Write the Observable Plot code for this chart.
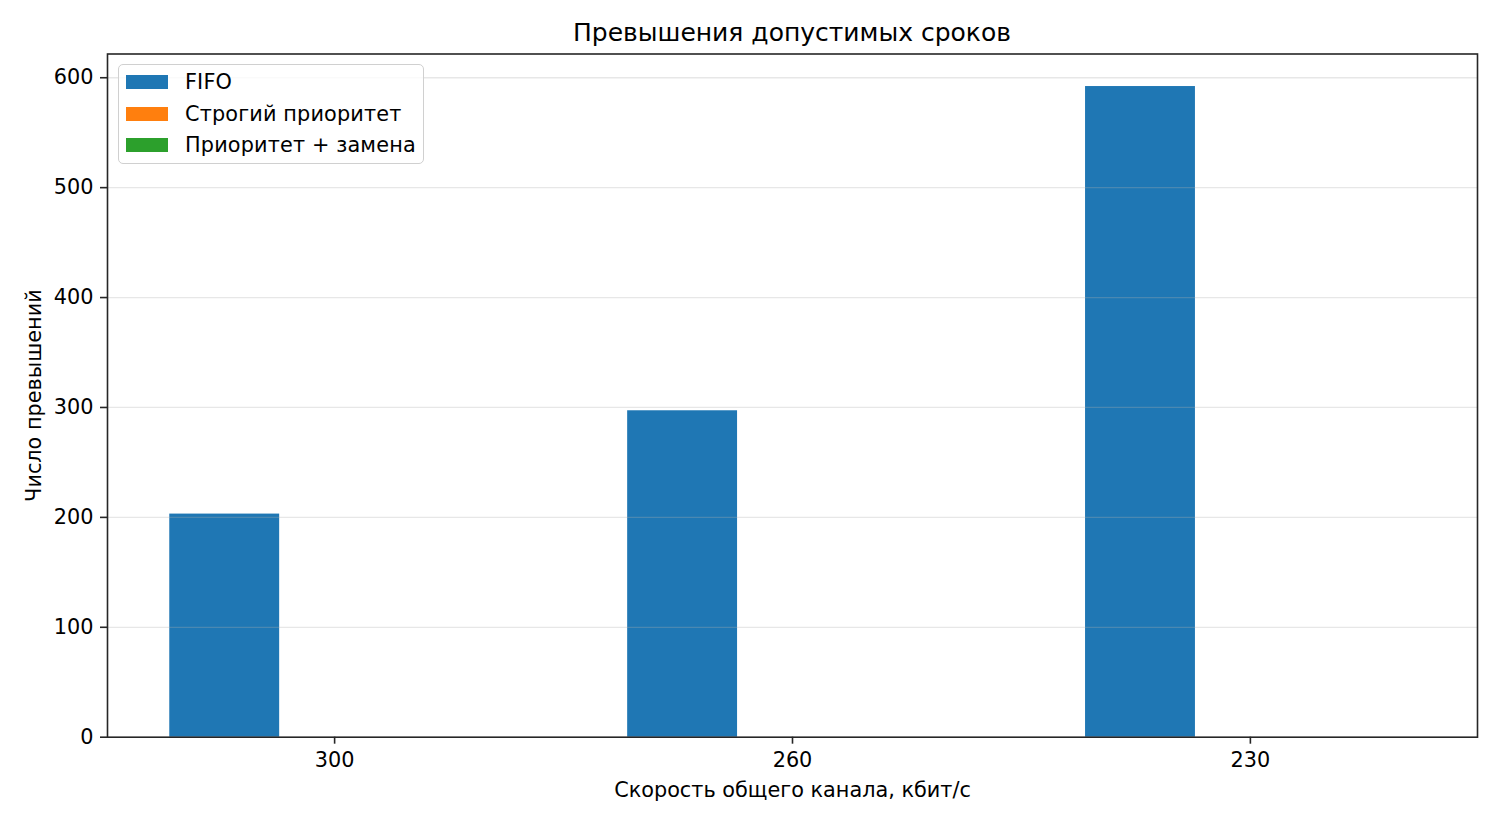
<!DOCTYPE html>
<html>
<head>
<meta charset="utf-8">
<script src="https://cdn.jsdelivr.net/npm/d3@7"></script>
<script src="https://cdn.jsdelivr.net/npm/@observablehq/plot@0.6"></script>
<style>
  html, body { margin: 0; padding: 0; background: #fff; }
  #wrap { position: relative; width: 1500px; height: 825px; font-family: "DejaVu Sans", sans-serif; color: #000; }
  #title { position: absolute; left: 107px; width: 1370px; top: 18px; line-height: 30px; text-align: center; font-size: 25px; }
  #chart { position: absolute; left: 0; top: 50px; }
  #legend { position: absolute; left: 118px; top: 64px; width: 306px; height: 100px; box-sizing: border-box;
            border: 1.3px solid #d0d0d0; border-radius: 5px; background: rgba(255,255,255,0.8); }
  .row { position: absolute; left: 0; height: 24px; font-size: 20.8px; white-space: nowrap; }
  .sw { position: absolute; left: 7px; top: 5px; width: 42px; height: 14px; }
  .lab { position: absolute; left: 66px; top: 0; line-height: 24px; letter-spacing: 0.15px; }
</style>
</head>
<body>
<div id="wrap">
  <div id="title"></div>
  <div id="chart"></div>
  <div id="legend"></div>
</div>
<script>
const titleText = "Превышения допустимых сроков";
const xLabel = "Скорость общего канала, кбит/с";
const yLabel = "Число превышений";
const groups = ["300", "260", "230"];
const seriesNames = ["FIFO", "Строгий приоритет", "Приоритет + замена"];
const fifo = [203, 297, 592];
const strictPriority = [0, 0, 0];
const priorityReplace = [0, 0, 0];
const colors = ["#1f77b4", "#ff7f0e", "#2ca02c"];
const yTicks = [0, 100, 200, 300, 400, 500, 600];

const barW = 0.24;
const seriesValues = [fifo, strictPriority, priorityReplace];
const rows = [];
seriesValues.forEach((vals, k) => {
  vals.forEach((v, i) => {
    const c = i + (k - 1) * barW;
    rows.push({ x1: c - barW / 2, x2: c + barW / 2, y: v, series: seriesNames[k] });
  });
});

document.getElementById("title").textContent = titleText;

const axisColor = "#262626";
const fs = 20.8;
const chart = Plot.plot({
  width: 1500,
  height: 775,
  marginLeft: 107,
  marginRight: 23,
  marginTop: 3.5,
  marginBottom: 88.3,
  style: { fontFamily: "DejaVu Sans, sans-serif", fontSize: fs + "px", color: "#000", background: "#fff" },
  x: { type: "linear", domain: [-0.496, 2.496] },
  y: { domain: [0, 621.6] },
  color: { domain: seriesNames, range: colors },
  marks: [
    Plot.rect(rows, { x1: "x1", x2: "x2", y1: 0, y2: "y", fill: "series" }),
    Plot.gridY(yTicks.slice(1), { stroke: "#b0b0b0", strokeOpacity: 0.3, strokeWidth: 1.3 }),
    Plot.frame({ stroke: axisColor, strokeWidth: 1.6 }),
    Plot.axisX([0, 1, 2], { tickFormat: i => groups[i], tickSize: 7, tickPadding: 8, stroke: axisColor, strokeWidth: 1.6, fill: "#000", fontSize: fs, label: null }),
    Plot.axisY(yTicks, { tickSize: 7, tickPadding: 7, stroke: axisColor, strokeWidth: 1.6, fill: "#000", fontSize: fs, label: null }),
    Plot.text([xLabel], { text: d => d, frameAnchor: "bottom", dy: 53, lineAnchor: "middle", fontSize: fs, fill: "#000" }),
    Plot.text([yLabel], { text: d => d, frameAnchor: "left", dx: -73, rotate: -90, textAnchor: "middle", lineAnchor: "middle", fontSize: fs, fill: "#000" })
  ]
});
document.getElementById("chart").appendChild(chart);

const legend = document.getElementById("legend");
seriesNames.forEach((name, k) => {
  const row = document.createElement("div");
  row.className = "row";
  row.style.top = (5 + k * 31.5) + "px";
  row.style.width = "100%";
  const sw = document.createElement("div");
  sw.className = "sw";
  sw.style.background = colors[k];
  const lab = document.createElement("div");
  lab.className = "lab";
  lab.textContent = name;
  row.appendChild(sw);
  row.appendChild(lab);
  legend.appendChild(row);
});
</script>
</body>
</html>
